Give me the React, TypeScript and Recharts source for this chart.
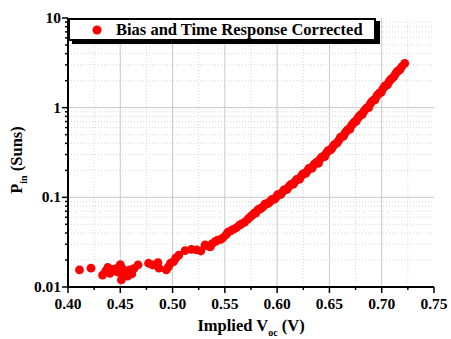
import React from "react";
import {
  ScatterChart,
  Scatter,
  XAxis,
  YAxis,
  ReferenceLine,
  Legend,
  Label,
} from "recharts";

// implied Voc (V) and Pin (suns)
const voc = [
  0.411, 0.422, 0.433, 0.436, 0.438, 0.44, 0.441, 0.443, 0.446, 0.448, 0.45, 0.451,
  0.452, 0.454, 0.457, 0.459, 0.461, 0.463, 0.467, 0.477, 0.481, 0.486, 0.487, 0.494,
  0.496, 0.498, 0.501, 0.503, 0.506, 0.512, 0.518, 0.523, 0.527, 0.531, 0.533, 0.536,
  0.538, 0.541, 0.543, 0.546, 0.548, 0.551, 0.553, 0.556, 0.558, 0.561, 0.564, 0.566,
  0.569, 0.572, 0.574, 0.576, 0.578, 0.581, 0.584, 0.587, 0.59, 0.593, 0.596, 0.599,
  0.602, 0.605, 0.608, 0.611, 0.614, 0.617, 0.62, 0.623, 0.626, 0.629, 0.632, 0.635,
  0.638, 0.641, 0.644, 0.647, 0.65, 0.653, 0.656, 0.659, 0.662, 0.665, 0.668, 0.671,
  0.674, 0.677, 0.68, 0.683, 0.686, 0.689, 0.692, 0.695, 0.698, 0.701, 0.704, 0.707,
  0.71, 0.713, 0.716, 0.719, 0.722,
  0.5795, 0.5825, 0.5855, 0.5885, 0.5915, 0.5945, 0.5975, 0.6005, 0.6035, 0.6065,
  0.6095, 0.6125, 0.6155, 0.6185, 0.6215, 0.6245, 0.6275, 0.6305, 0.6335, 0.6365,
  0.6395, 0.6425, 0.6455, 0.6485, 0.6515, 0.6545, 0.6575, 0.6605, 0.6635, 0.6665,
  0.6695, 0.6725, 0.6755, 0.6785, 0.6815, 0.6845, 0.6875, 0.6905, 0.6935, 0.6965,
  0.6995, 0.7025, 0.7055, 0.7085, 0.7115, 0.7145, 0.7175,
];
const pin = [
  0.0155, 0.0162, 0.0136, 0.015, 0.0165, 0.0142, 0.0158, 0.015, 0.016, 0.0146, 0.0178, 0.012,
  0.016, 0.0142, 0.0132, 0.0155, 0.014, 0.016, 0.0176, 0.0184, 0.0176, 0.0187, 0.0162, 0.0155,
  0.0168, 0.0184, 0.0192, 0.021, 0.0227, 0.0254, 0.0263, 0.026, 0.0252, 0.0294, 0.0287, 0.028,
  0.0305, 0.0322, 0.0334, 0.034, 0.0352, 0.038, 0.041, 0.0425, 0.044, 0.0458, 0.049, 0.0505,
  0.053, 0.0572, 0.0603, 0.063, 0.0668, 0.071, 0.075, 0.0796, 0.0845, 0.089, 0.095, 0.1,
  0.107, 0.114, 0.122, 0.131, 0.14, 0.15, 0.16, 0.172, 0.184, 0.198, 0.213, 0.23,
  0.247, 0.265, 0.287, 0.311, 0.336, 0.364, 0.396, 0.434, 0.477, 0.523, 0.574, 0.63,
  0.693, 0.76, 0.834, 0.915, 1.0, 1.1, 1.21, 1.33, 1.46, 1.61, 1.77, 1.95,
  2.14, 2.36, 2.59, 2.85, 3.12,
  0.0665, 0.074, 0.0765, 0.0845, 0.0855, 0.094, 0.0955, 0.107, 0.108, 0.121,
  0.123, 0.138, 0.14, 0.158, 0.16, 0.182, 0.186, 0.21, 0.212, 0.24,
  0.24, 0.28, 0.285, 0.33, 0.34, 0.385, 0.405, 0.465, 0.48, 0.55,
  0.575, 0.665, 0.705, 0.8, 0.84, 0.96, 1.0, 1.17, 1.22, 1.41,
  1.48, 1.72, 1.8, 2.06, 2.2, 2.5, 2.66,
];

const xTicks = [0.4, 0.425, 0.45, 0.475, 0.5, 0.525, 0.55, 0.575, 0.6, 0.625, 0.65, 0.675, 0.7, 0.725, 0.75];
const xMajor = [0.4, 0.45, 0.5, 0.55, 0.6, 0.65, 0.7, 0.75];
const yMajor = [0.01, 0.1, 1, 10];
const yMinor = [
  0.02, 0.03, 0.04, 0.05, 0.06, 0.07, 0.08, 0.09,
  0.2, 0.3, 0.4, 0.5, 0.6, 0.7, 0.8, 0.9,
  2, 3, 4, 5, 6, 7, 8, 9,
];
const yTicks = [...yMajor, ...yMinor].sort((a, b) => a - b);

const data = voc.map((v, i) => ({ v, p: pin[i] }));

const FONT = "'Liberation Serif', 'Times New Roman', serif";
const isMajorX = (v: number) => xMajor.some((m) => Math.abs(m - v) < 1e-6);
const isMajorY = (v: number) => yMajor.includes(v);

function BottomTick({ x, y, payload }: any) {
  const major = isMajorX(payload.value);
  return (
    <g>
      <line x1={x} x2={x} y1={y} y2={y + (major ? 6 : 3)} stroke="#000" strokeWidth={1.5} />
      {major && (
        <text x={x} y={y + 22} textAnchor="middle" fontFamily={FONT} fontWeight="bold" fontSize={15.5} fill="#000">
          {payload.value.toFixed(2)}
        </text>
      )}
    </g>
  );
}

function TopTick({ x, y, payload }: any) {
  const major = isMajorX(payload.value);
  return <line x1={x} x2={x} y1={y} y2={y - (major ? 5 : 3)} stroke="#000" strokeWidth={1.5} />;
}

function LeftTick({ x, y, payload }: any) {
  const major = isMajorY(payload.value);
  return (
    <g>
      <line x1={x} x2={x - (major ? 6 : 3)} y1={y} y2={y} stroke="#000" strokeWidth={1.5} />
      {major && (
        <text x={x - 7} y={y + 5} textAnchor="end" fontFamily={FONT} fontWeight="bold" fontSize={15.5} fill="#000">
          {String(payload.value)}
        </text>
      )}
    </g>
  );
}

function RightTick({ x, y, payload }: any) {
  const major = isMajorY(payload.value);
  return <line x1={x} x2={x + (major ? 5 : 3)} y1={y} y2={y} stroke="#000" strokeWidth={1.5} />;
}

function LegendBox({ payload }: any) {
  const item = payload && payload[0];
  return (
    <div
      style={{
        width: 304,
        height: 19,
        border: "2px solid #000",
        background: "#fff",
        boxShadow: "4px 3px 0 #000",
        display: "flex",
        alignItems: "center",
        fontFamily: FONT,
        fontWeight: "bold",
        fontSize: 16.5,
        color: "#000",
      }}
    >
      <svg width={46} height={19}>
        <circle cx={27} cy={10} r={4.5} fill="#ff0000" />
      </svg>
      <span>{item ? item.value : ""}</span>
    </div>
  );
}

export default function App() {
  return (
    <div style={{ position: "absolute", left: 0, top: 0, width: 451, height: 339, background: "#fff" }}>
      <ScatterChart width={451} height={339} margin={{ top: 18, right: 17, bottom: 12, left: 18 }}>
        <XAxis
          xAxisId="b"
          dataKey="v"
          type="number"
          domain={[0.4, 0.75]}
          ticks={xTicks}
          interval={0}
          allowDataOverflow
          height={40}
          tickSize={0}
          tickMargin={0}
          tickLine={false}
          tick={<BottomTick />}
          axisLine={{ stroke: "#000", strokeWidth: 2 }}
        >
          <Label
            content={() => (
              <text x={251} y={331} textAnchor="middle" fontFamily={FONT} fontWeight="bold" fontSize={16.5} fill="#000">
                <tspan>Implied V</tspan>
                <tspan dy={5} fontSize={10}>oc</tspan>
                <tspan dy={-5}> (V)</tspan>
              </text>
            )}
          />
        </XAxis>
        <XAxis
          xAxisId="t"
          orientation="top"
          type="number"
          domain={[0.4, 0.75]}
          ticks={xTicks}
          interval={0}
          allowDataOverflow
          height={0}
          tickSize={0}
          tickMargin={0}
          tickLine={false}
          tick={<TopTick />}
          axisLine={{ stroke: "#000", strokeWidth: 2 }}
        />
        <YAxis
          yAxisId="l"
          dataKey="p"
          type="number"
          scale="log"
          domain={[0.01, 10]}
          ticks={yTicks}
          interval={0}
          allowDataOverflow
          width={50}
          tickSize={0}
          tickMargin={0}
          tickLine={false}
          tick={<LeftTick />}
          axisLine={{ stroke: "#000", strokeWidth: 2 }}
        >
          <Label
            content={() => (
              <text
                x={22}
                y={160}
                transform="rotate(-90, 22, 160)"
                textAnchor="middle"
                fontFamily={FONT}
                fontWeight="bold"
                fontSize={16.5}
                fill="#000"
              >
                <tspan>P</tspan>
                <tspan dy={5} fontSize={10}>in</tspan>
                <tspan dy={-5}> (Suns)</tspan>
              </text>
            )}
          />
        </YAxis>
        <YAxis
          yAxisId="r"
          orientation="right"
          type="number"
          scale="log"
          domain={[0.01, 10]}
          ticks={yTicks}
          interval={0}
          allowDataOverflow
          width={0}
          tickSize={0}
          tickMargin={0}
          tickLine={false}
          tick={<RightTick />}
          axisLine={{ stroke: "#000", strokeWidth: 2 }}
        />
        {xTicks
          .filter((t) => t > 0.41 && t < 0.74)
          .map((t) => (
            <ReferenceLine
              key={"x" + t}
              xAxisId="b"
              yAxisId="l"
              x={t}
              stroke={isMajorX(t) ? "#c8c8c8" : "#d8d8d8"}
              strokeWidth={1}
              strokeDasharray={isMajorX(t) ? undefined : "1 2"}
            />
          ))}
        {yTicks
          .filter((t) => t > 0.01 && t < 10)
          .map((t) => (
            <ReferenceLine
              key={"y" + t}
              xAxisId="b"
              yAxisId="l"
              y={t}
              stroke={isMajorY(t) ? "#c8c8c8" : "#d8d8d8"}
              strokeWidth={1}
              strokeDasharray={isMajorY(t) ? undefined : "1 2"}
            />
          ))}
        <Scatter
          name="Bias and Time Response Corrected"
          data={data}
          xAxisId="b"
          yAxisId="l"
          fill="#ff0000"
          isAnimationActive={false}
          shape={(p: any) => <circle cx={p.cx} cy={p.cy} r={4.4} fill="#ff0000" />}
        />
        <Legend
          layout="horizontal"
          verticalAlign="middle"
          align="center"
          wrapperStyle={{ left: 68, top: 18, width: "auto" }}
          content={<LegendBox />}
        />
      </ScatterChart>
    </div>
  );
}
